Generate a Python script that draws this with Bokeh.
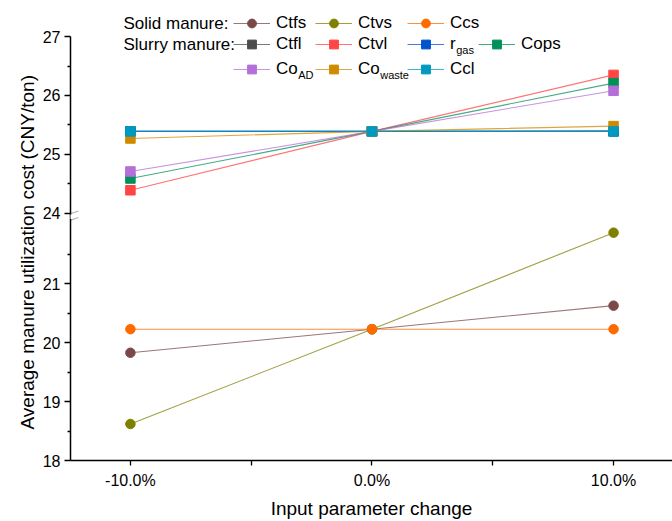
from bokeh.plotting import figure
from bokeh.models import (Range1d, FixedTicker, CustomJSTickFormatter, Legend,
                          LegendItem, Label, PolyAnnotation, BoxAnnotation, Title)
from bokeh.embed import file_html
from bokeh.resources import INLINE

# ---------------- data ----------------
x_change = [-10, 0, 10]
x_tick_labels = ["-10.0%", "0.0%", "10.0%"]

# solid manure (lower segment)
ctfs = [19.83, 20.23, 20.63]
ctvs = [18.62, 20.23, 21.87]
ccs = [20.23, 20.23, 20.23]

# slurry manure (upper segment)
ctfl = [25.39, 25.39, 25.40]
ctvl = [24.39, 25.39, 26.35]
rgas = [25.39, 25.39, 25.39]
cops = [24.59, 25.39, 26.21]
coad = [24.71, 25.39, 26.08]
cowaste = [25.27, 25.39, 25.48]
ccl = [25.39, 25.39, 25.39]

lower_ticks = [18, 19, 20, 21]
lower_minor = [18.5, 19.5, 20.5, 21.5]
upper_ticks = [24, 25, 26, 27]
upper_minor = [24.5, 25.5, 26.5]

# broken axis: lower segment 18..22.2, upper 24..27
BREAK_LOW = 22.2
BREAK_HIGH = 24.0
SHIFT = BREAK_HIGH - BREAK_LOW

FONT = "Liberation Sans"

# frame left / bottom in page pixels
FL, FB = 70, 461
PX_PER_UNIT = 59.0


def up(vals):
    return [v - SHIFT for v in vals]


p = figure(width=672, height=521,
           x_range=Range1d(-12.48, 12.44),
           y_range=Range1d(18, 18 + FB / PX_PER_UNIT),
           output_backend="svg", toolbar_location=None,
           min_border_left=FL, min_border_right=0,
           min_border_top=0, min_border_bottom=521 - FB)
p.outline_line_color = None
p.grid.visible = False

# axes
xa = p.xaxis[0]
xa.ticker = FixedTicker(ticks=x_change, minor_ticks=[-5, 5])
xa.major_label_overrides = {x: l for x, l in zip(x_change, x_tick_labels)}
xa.axis_label = "Input parameter change"
ya = p.yaxis[0]
ya.ticker = FixedTicker(ticks=lower_ticks + up(upper_ticks),
                        minor_ticks=lower_minor + up(upper_minor))
ya.formatter = CustomJSTickFormatter(
    args=dict(brk=BREAK_LOW, shift=SHIFT),
    code="return (tick > brk - 1e-6 ? tick + shift : tick).toFixed(0);")
ya.bounds = (18, upper_ticks[-1] - SHIFT)

for ax in (xa, ya):
    ax.axis_line_width = 1.5
    ax.axis_line_color = "black"
    ax.major_tick_line_color = "black"
    ax.minor_tick_line_color = "black"
    ax.major_tick_line_width = 1.3
    ax.minor_tick_line_width = 1.3
    ax.major_tick_in = 0
    ax.minor_tick_in = 0
    ax.major_label_text_font = FONT
    ax.major_label_text_font_size = "16px"
    ax.major_label_text_color = "black"
    ax.axis_label_text_font = FONT
    ax.axis_label_text_font_size = "19px"
    ax.axis_label_text_font_style = "normal"
    ax.axis_label_text_color = "black"

xa.major_tick_out = 5
xa.minor_tick_out = 5
xa.major_label_standoff = 6
xa.axis_label_standoff = 6
ya.major_tick_out = 6
ya.minor_tick_out = 3
ya.major_label_standoff = 4

# y axis title as a left-side title, starting 31px above the frame bottom
p.add_layout(Title(text="Average manure utilization cost (CNY/ton)",
                   align="left", offset=31, standoff=4,
                   text_font=FONT, text_font_size="19px",
                   text_font_style="normal", text_color="black"), "left")

# series: (label, subscript, values, color, marker, legend glyph-left x, legend centre y)
series = [
    ("Ctfs", "", ctfs, "#7A4848", "circle", 233, 24),
    ("Ctvs", "", ctvs, "#808000", "circle", 315, 24),
    ("Ccs", "", ccs, "#FF6A00", "circle", 407, 24),
    ("Ctfl", "", up(ctfl), "#4D4D4D", "square", 233, 44.5),
    ("Ctvl", "", up(ctvl), "#FF4545", "square", 315, 44.5),
    ("r", "gas", up(rgas), "#0052CC", "square", 407, 44.5),
    ("Cops", "", up(cops), "#00915A", "square", 478, 44.5),
    ("Co", "AD", up(coad), "#B46FD8", "square", 233, 69.5),
    ("Co", "waste", up(cowaste), "#CF8A00", "square", 315, 69.5),
    ("Ccl", "", up(ccl), "#0099BF", "square", 407, 69.5),
]

char_w = {"r": 0.333, "Co": 1.278}
LEG_FS = 17
for name, sub, vals, color, marker, gx, gy in series:
    rl = p.line(x_change, vals, line_color=color, line_width=1.1, line_alpha=0.75)
    rs = p.scatter(x_change, vals, marker=marker, size=9.5,
                   fill_color=color, line_color=color)
    leg = Legend(items=[LegendItem(label=name, renderers=[rl, rs])],
                 location=(gx - FL, FB - gy - 11),
                 orientation="horizontal", padding=0, margin=0, spacing=0,
                 glyph_width=37, glyph_height=22, label_height=22,
                 label_standoff=6, label_text_font=FONT,
                 label_text_font_size=f"{LEG_FS}px", label_text_color="black",
                 border_line_color=None, background_fill_alpha=0)
    p.add_layout(leg)
    if sub:
        sx = gx + 43 + char_w[name] * LEG_FS
        p.add_layout(Label(x=sx - FL, y=FB - (gy + 6), x_units="screen",
                           y_units="screen", text=sub, text_font=FONT,
                           text_font_size="11px", text_baseline="middle",
                           text_color="black"))

for txt, gy in (("Solid manure:", 24), ("Slurry manure:", 44.5)):
    p.add_layout(Label(x=123 - FL, y=FB - gy, x_units="screen", y_units="screen",
                       text=txt, text_font=FONT, text_font_size=f"{LEG_FS}px",
                       text_baseline="middle", text_color="black"))

# axis break marks
p.add_layout(BoxAnnotation(left=-3, right=3, bottom=FB - 219.5, top=FB - 215,
                           left_units="screen", right_units="screen",
                           bottom_units="screen", top_units="screen",
                           fill_color="white", fill_alpha=1, line_color=None))
for cy in (214, 220.5):
    p.add_layout(PolyAnnotation(xs=[-7, 8], ys=[FB - (cy + 2.5), FB - (cy - 2.5)],
                                xs_units="screen", ys_units="screen",
                                fill_alpha=0, line_color="black", line_width=1.3))

open("out.html", "w").write(file_html(p, INLINE))
